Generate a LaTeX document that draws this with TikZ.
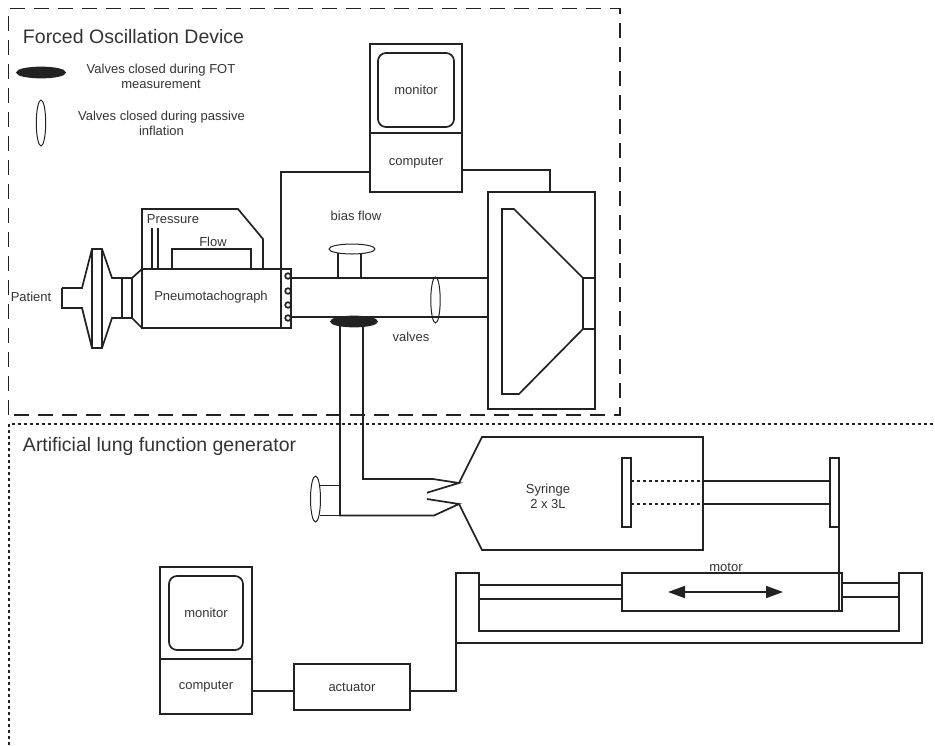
\documentclass[tikz,border=0pt]{standalone}
\usepackage{fontspec}
\setmainfont{Liberation Sans}
\usetikzlibrary{arrows.meta}
\definecolor{inkline}{HTML}{222222}
\definecolor{inktext}{HTML}{333333}
\begin{document}
\begin{tikzpicture}[x=1pt,y=-1pt,line width=1.7pt,draw=inkline,line join=miter,
  every node/.style={text=inktext,font=\fontsize{13}{15}\selectfont,inner sep=0pt,outer sep=0pt},
  box/.style={draw,rectangle},
  heading/.style={font=\fontsize{19.5}{22}\selectfont,anchor=west},
  thinvalve/.style={draw,line width=1pt,fill=white},
  shutvalve/.style={draw,fill=inkline}]
\useasboundingbox (0,0) rectangle (935,745);

\draw[dash pattern=on 15pt off 9pt] (8.5,415) -- (8.5,8.5) -- (620,8.5) -- (620,415) -- cycle;
\draw[dash pattern=on 3pt off 3pt] (8.7,745) -- (8.7,424) -- (935,424);
\node[heading] (devicetitle) at (23,37) {Forced Oscillation Device};
\node[heading] (lungtitle) at (23,446) {Artificial lung function generator};

\draw[shutvalve] (41,72.5) ellipse (24 and 5);
\node[align=center] (legendshut) at (161,76) {Valves closed during FOT\\measurement};
\draw[thinvalve] (41,123) ellipse (4.7 and 23);
\node[align=center] (legendopen) at (161.5,123) {Valves closed during passive\\inflation};

\node[box,minimum width=92pt,minimum height=89pt] (monitorup) at (416,88.5) {};
\node[box,minimum width=92pt,minimum height=59pt] (computerup) at (416,162.5) {computer};
\node[draw,rounded corners=8pt,minimum width=76pt,minimum height=74pt] (screenup) at (416,90) {monitor};
\node[box,minimum width=107pt,minimum height=217pt] (speaker) at (541.5,300.5) {};

\draw (62,288) -- (82,288) -- (92,249) -- (102,249) -- (112,278) -- (132,278) -- (142,269);
\draw (62,288) -- (62,308) -- (82,308) -- (92,348) -- (102,348) -- (112,318) -- (132,318) -- (142,328);
\draw (92,249) -- (92,348);
\draw (102,249) -- (102,348);
\draw (122,278) -- (122,318);
\draw (132,278) -- (132,318);
\node (patient) at (31,297) {Patient};

\node[box,minimum width=139pt,minimum height=59pt] (pneumo) at (211.5,298.5) {};
\node (pneumolabel) at (211,297) {Pneumotachograph};
\node[box,minimum width=10pt,minimum height=59pt] (taps) at (286,298.5) {};
\draw (142,269) -- (142,209) -- (238,209) -- (263,239) -- (263,269);
\draw (152,228) -- (152,269);
\draw (158,228) -- (158,269);
\draw (172,269) -- (172,249) -- (251,249) -- (251,269);
\node (pressure) at (173,219.5) {Pressure};
\node (flow) at (213,242) {Flow};

\draw (288,278) -- (speaker.west |- 0,278);
\draw (288,317) -- (speaker.west |- 0,317);
\foreach \tapy in {276,291,305,318}
  \draw[fill=white] (288,\tapy) circle (2.8);

\draw (taps.north west) -- (281,172) -- (computerup.west |- 0,172);
\draw (computerup.east |- 0,170) -- (550,170) -- (speaker.north -| 550,0);

\draw (338,278) -- (338,253);
\draw (361,278) -- (361,253);
\draw[thinvalve] (352,249) ellipse (23 and 5);
\node (biasflow) at (356,216) {bias flow};
\draw[thinvalve,fill=none] (435.5,300) ellipse (4.7 and 23);
\node (valves) at (411,337) {valves};

\draw (502,209) -- (514,209) -- (583,278) -- (583,329) -- (519,394) -- (502,394) -- cycle;
\draw (583,278) -- (594,278);
\draw (583,329) -- (594,329);

\draw (340,321) -- (340,515.5) -- (434,515.5) -- (459,504) -- (427,499);
\draw (363,321) -- (363,479) -- (433,479) -- (459,483) -- (427,492.7);
\draw[shutvalve] (354,321.5) ellipse (23 and 5);
\draw (320,485.6) -- (340,485.6);
\draw (320,515.5) -- (340,515.5);
\draw[thinvalve,fill=none] (315.5,499) ellipse (5 and 23);

\draw (459,483) -- (482,437) -- (703,437) -- (703,550) -- (482,550) -- (459,504);
\node[align=center] (syringe) at (548,496.5) {Syringe\\2 x 3L};
\node[box,minimum width=9.3pt,minimum height=69.3pt] (plunger) at (626.3,492.3) {};
\node[box,minimum width=9pt,minimum height=69.3pt] (plate) at (834.5,492.3) {};
\draw[dash pattern=on 3pt off 3pt] (plunger.east |- 0,481) -- (703,481);
\draw[dash pattern=on 3pt off 3pt] (plunger.east |- 0,504) -- (703,504);
\draw (703,481) -- (plate.west |- 0,481);
\draw (703,504) -- (plate.west |- 0,504);

\node[box,minimum width=220.3pt,minimum height=37.7pt] (motor) at (731.8,591.8) {};
\node (motorlabel) at (726,567.5) {motor};
\draw[{Triangle[length=17pt,width=12pt]}-{Triangle[length=17pt,width=12pt]}] (668,592) -- (783,592);
\draw (plate.south east) -- (motor.south -| plate.south east);
\draw (456,573) -- (479,573) -- (479,631) -- (899,631) -- (899,573) -- (922,573) -- (922,643) -- (456,643) -- cycle;
\draw (479,585) -- (motor.west |- 0,585);
\draw (479,599) -- (motor.west |- 0,599);
\draw (motor.east |- 0,583) -- (899,583);
\draw (motor.east |- 0,597) -- (899,597);

\node[box,minimum width=92pt,minimum height=92pt] (monitordown) at (206,613) {};
\node[box,minimum width=92pt,minimum height=55pt] (computerdown) at (206,686.5) {computer};
\node[draw,rounded corners=8pt,minimum width=74pt,minimum height=74pt] (screendown) at (206,613) {monitor};
\node[box,minimum width=116pt,minimum height=46pt] (actuator) at (352,687) {actuator};
\draw (computerdown.east |- 0,691) -- (actuator.west |- 0,691);
\draw (actuator.east |- 0,691) -- (456,691) -- (456,643);
\end{tikzpicture}
\end{document}
